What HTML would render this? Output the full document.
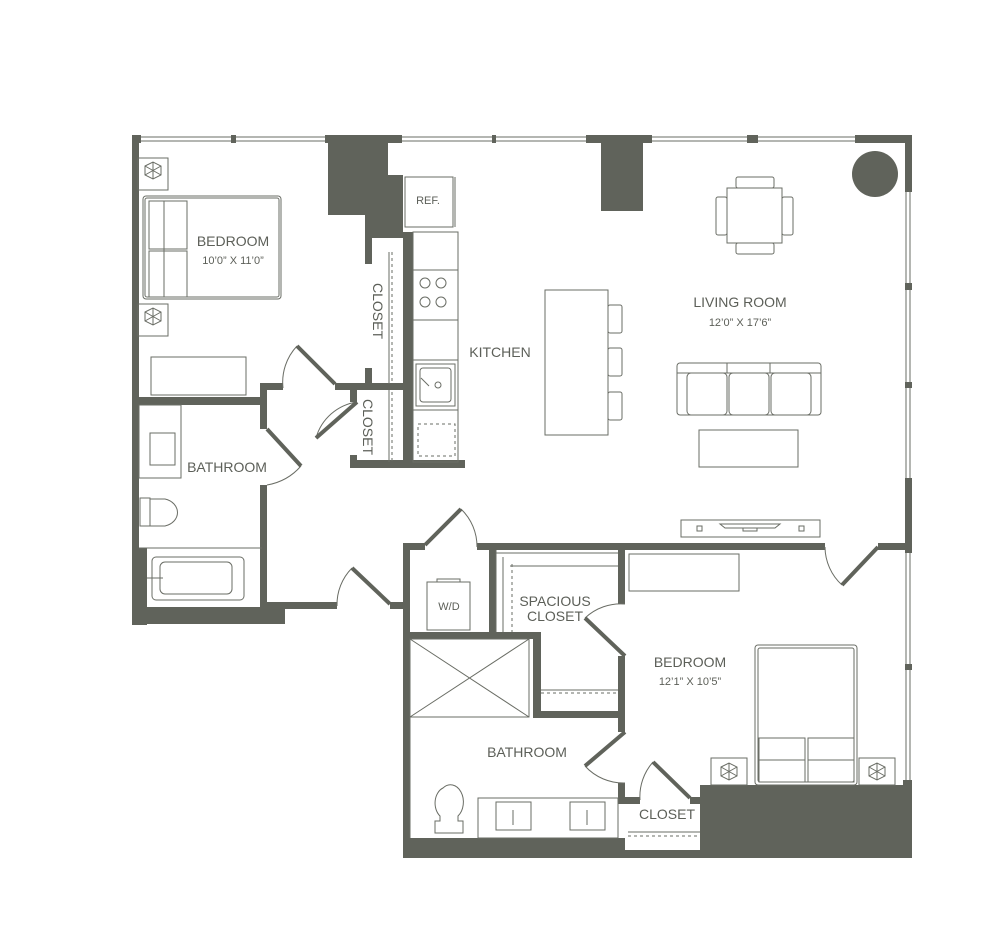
<!DOCTYPE html>
<html><head><meta charset="utf-8"><style>
html,body{margin:0;padding:0;background:#fff}
svg{display:block}
text{font-family:"Liberation Sans",sans-serif;fill:#5c5f58}
.l{font-size:14px;text-anchor:middle}
.s{font-size:11px;text-anchor:middle}
</style></head><body>
<svg width="1000" height="932" viewBox="0 0 1000 932" xmlns="http://www.w3.org/2000/svg">
<g fill="#60635b">
<!-- top wall -->
<rect x="132" y="135" width="9" height="8"/>
<rect x="231" y="135" width="5" height="8"/>
<rect x="325" y="135" width="77" height="8"/>
<rect x="492" y="135" width="4" height="8"/>
<rect x="586" y="135" width="66" height="8"/>
<rect x="747" y="135" width="11" height="8"/>
<rect x="855" y="135" width="57" height="8"/>
<!-- left wall -->
<rect x="132" y="135" width="7" height="490"/>
<rect x="132" y="548" width="15" height="77"/>
<rect x="132" y="607" width="153" height="17"/>
<!-- pillar -->
<polygon points="328,137 388,137 388,175 403,175 403,238 372,238 372,252 365,252 365,215 328,215"/>
<rect x="601" y="137" width="42" height="74"/>
<circle cx="875" cy="174" r="23"/>
<!-- right wall -->
<rect x="905" y="135" width="7" height="57"/>
<rect x="905" y="283" width="7" height="7"/>
<rect x="905" y="382" width="7" height="6"/>
<rect x="905" y="478" width="7" height="75"/>
<rect x="905" y="664" width="7" height="6"/>
<rect x="903" y="780" width="9" height="78"/>
<!-- closet/kitchen walls -->
<rect x="403" y="232" width="10" height="236"/>
<rect x="365" y="250" width="7" height="14"/>
<rect x="365" y="368" width="7" height="20"/>
<rect x="132" y="397" width="135" height="8"/>
<rect x="260" y="383" width="23" height="7"/>
<rect x="335" y="383" width="70" height="7"/>
<rect x="260" y="383" width="7" height="46"/>
<rect x="260" y="485" width="7" height="124"/>
<rect x="350" y="390" width="7" height="12"/>
<rect x="350" y="455" width="7" height="13"/>
<rect x="350" y="460" width="115" height="8"/>
<rect x="260" y="602" width="77" height="7"/>
<rect x="390" y="602" width="15" height="7"/>
<!-- laundry & lower block -->
<rect x="403" y="543" width="7" height="315"/>
<rect x="403" y="543" width="22" height="7"/>
<rect x="477" y="543" width="348" height="7"/>
<rect x="878" y="543" width="34" height="7"/>
<rect x="489" y="550" width="7" height="84"/>
<rect x="403" y="632" width="137" height="7"/>
<rect x="533" y="632" width="8" height="86"/>
<rect x="533" y="711" width="92" height="7"/>
<rect x="618" y="550" width="7" height="54"/>
<rect x="618" y="656" width="7" height="76"/>
<rect x="618" y="783" width="7" height="20"/>
<rect x="618" y="797" width="22" height="7"/>
<rect x="690" y="797" width="15" height="7"/>
<rect x="700" y="785" width="212" height="73"/>
<rect x="403" y="838" width="222" height="20"/>
<rect x="618" y="850" width="90" height="8"/>
</g>
<g fill="none" stroke="#6a6d65" stroke-width="1">
<!-- windows -->
<path d="M141 137h90M141 141h90M236 137h89M236 141h89M402 137h90M402 141h90M496 137h90M496 141h90M652 137h95M652 141h95M758 137h97M758 141h97"/>
<path d="M906 192v91M910 192v91M906 290v92M910 290v92M906 388v90M910 388v90M906 553v111M910 553v111M906 670v110M910 670v110"/>
<!-- door arcs -->
<path d="M283 388 A53 53 0 0 1 297 346"/>
<path d="M357 402 A50 50 0 0 0 316 438"/>
<path d="M267 485 A58 58 0 0 0 301 466"/>
<path d="M337 606 A52 52 0 0 1 352 568"/>
<path d="M477 547 A52 52 0 0 0 461 509"/>
<path d="M625 604 A52 52 0 0 0 585 618"/>
<path d="M625 783 A52 52 0 0 1 585 766"/>
<path d="M640 800 A52 52 0 0 1 653 762"/>
<path d="M825 547 A52 52 0 0 0 842 585"/>
<!-- bedroom 1 furniture -->
<rect x="138" y="158" width="30" height="32"/><path d="M145 166l8-4 8 4v9l-8 4-8-4z M145 166l16 9M161 166l-16 9M153 162v17"/>
<rect x="138" y="304" width="30" height="32"/><path d="M145 312l8-4 8 4v9l-8 4-8-4z M145 312l16 9M161 312l-16 9M153 308v17"/>
<rect x="143" y="196" width="138" height="103" rx="3"/><rect x="145" y="198" width="134" height="99" rx="2"/>
<path d="M149 201h38v48h-38zM149 251h38v46h-38zM164 201v96"/>
<rect x="151" y="357" width="95" height="38"/>
<!-- closets dashed -->
<g stroke-dasharray="3,3"><path d="M392 252v132M392 392v72M418 424h37v32h-37z"/></g>
<path d="M389 252v132M389 390v72"/>
<!-- kitchen -->
<rect x="405" y="177" width="48" height="50"/><path d="M455 177v50"/>
<rect x="413" y="232" width="45" height="230"/>
<path d="M413 270h45M413 320h45M413 360h45M413 410h45"/>
<circle cx="425" cy="283" r="5"/><circle cx="441" cy="283" r="5"/><circle cx="425" cy="302" r="5"/><circle cx="441" cy="302" r="5"/>
<rect x="416" y="364" width="39" height="42"/><rect x="420" y="368" width="31" height="34" rx="3"/><circle cx="438" cy="385" r="3"/><path d="M421 378l8 8"/>
<!-- island & stools -->
<rect x="545" y="290" width="63" height="145"/>
<rect x="608" y="305" width="14" height="28" rx="2"/><rect x="608" y="348" width="14" height="28" rx="2"/><rect x="608" y="392" width="14" height="28" rx="2"/>
<!-- dining -->
<rect x="727" y="188" width="55" height="55"/>
<rect x="736" y="177" width="38" height="11" rx="2"/><rect x="736" y="243" width="38" height="11" rx="2"/>
<rect x="716" y="197" width="11" height="38" rx="2"/><rect x="782" y="197" width="11" height="38" rx="2"/>
<!-- sofa -->
<rect x="677" y="363" width="144" height="52" rx="3"/>
<path d="M677 373h144M727 363v10M770 363v10"/>
<rect x="687" y="373" width="40" height="42" rx="4"/><rect x="729" y="373" width="40" height="42" rx="4"/><rect x="771" y="373" width="40" height="42" rx="4"/>
<rect x="699" y="430" width="99" height="37"/>
<rect x="681" y="520" width="139" height="17"/><rect x="697" y="526" width="5" height="5"/><rect x="799" y="526" width="5" height="5"/>
<path d="M720 524h60l-5 4h-50z M743 528h14v3h-14z"/>
<!-- bath 1 -->
<rect x="139" y="405" width="42" height="73"/><rect x="150" y="433" width="25" height="32"/>
<path d="M140 498h10v28h-10zM150 499h15a17 14 0 0 1 0 27h-15"/>
<path d="M139 548h123"/>
<rect x="152" y="557" width="92" height="43" rx="4"/><rect x="160" y="562" width="72" height="32" rx="5"/><path d="M147 578h16"/>
<!-- W/D, shower, closet -->
<rect x="427" y="582" width="43" height="48"/><rect x="437" y="579" width="23" height="3"/>
<path d="M496 550v82M496 553h122M503 557v75M510 566h108"/>
<g stroke-dasharray="3,3"><path d="M512 564v68M541 693h77M628 836h72"/></g>
<path d="M541 690h77M628 832h72"/>
<rect x="410" y="639" width="119" height="78"/><path d="M410 639l119 78M529 639l-119 78"/>
<path d="M410 717v121"/>
<!-- bath 2 -->
<path d="M443 788a12 16 0 0 1 15 28v5h5v12h-28v-12h5v-5a12 16 0 0 1 3-28z"/>
<rect x="478" y="798" width="140" height="40"/>
<rect x="496" y="802" width="35" height="28"/><rect x="570" y="802" width="35" height="28"/>
<path d="M513 810v15M587 810v15"/>
<!-- bedroom 2 -->
<rect x="629" y="554" width="110" height="37"/>
<rect x="755" y="645" width="102" height="140" rx="3"/><rect x="758" y="648" width="96" height="134" rx="2"/>
<path d="M759 738h46v22h-46zM759 760h46v22h-46zM808 738h46v22h-46zM808 760h46v22h-46z"/>
<rect x="711" y="758" width="36" height="27"/><path d="M721 767l8-4 8 4v9l-8 4-8-4zM721 767l16 9M737 767l-16 9M729 763v17"/>
<rect x="859" y="758" width="36" height="27"/><path d="M869 767l8-4 8 4v9l-8 4-8-4zM869 767l16 9M885 767l-16 9M877 763v17"/>
</g>
<!-- door leaves -->
<g stroke="#60635b" stroke-width="4" fill="none">
<path d="M297 346l38 38M357 402l-41 36M267 429l34 37M352 568l38 36M425 545l36-36M625 656l-40-38M625 732l-40 34M653 762l37 36M878 547l-36 38"/>
</g>
<!-- labels -->
<text class="l" x="233" y="246">BEDROOM</text><text class="s" x="233" y="264">10’0” X 11’0”</text>
<text class="s" x="428" y="204">REF.</text>
<text class="l" x="500" y="357">KITCHEN</text>
<text class="l" x="740" y="307">LIVING ROOM</text><text class="s" x="740" y="326">12’0” X 17’6”</text>
<text class="l" transform="translate(373,311) rotate(90)">CLOSET</text>
<text class="l" transform="translate(363,427) rotate(90)">CLOSET</text>
<text class="l" x="227" y="472">BATHROOM</text>
<text class="s" x="449" y="610">W/D</text>
<text class="l" x="555" y="606">SPACIOUS</text><text class="l" x="555" y="621">CLOSET</text>
<text class="l" x="690" y="667">BEDROOM</text><text class="s" x="690" y="685">12’1” X 10’5”</text>
<text class="l" x="527" y="757">BATHROOM</text>
<text class="l" x="667" y="819">CLOSET</text>
</svg>
</body></html>
